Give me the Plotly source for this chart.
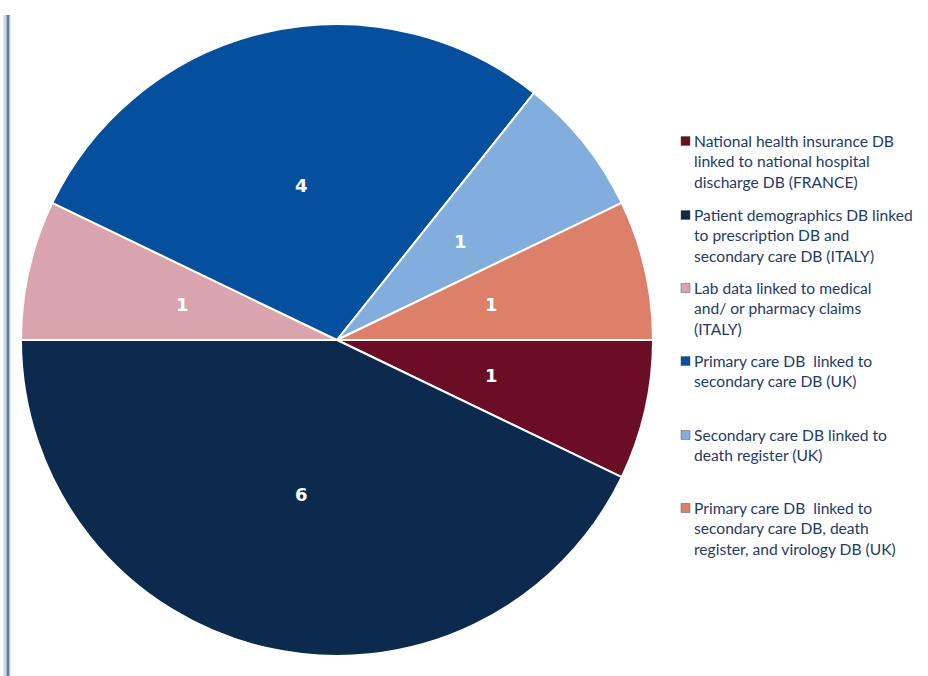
import math
import plotly.graph_objects as go

W, H = 928, 676

labels = [
    "National health insurance DB<br>linked to national hospital<br>discharge DB (FRANCE)",
    "Patient demographics DB linked<br>to prescription DB and<br>secondary care DB (ITALY)",
    "Lab data linked to medical<br>and/ or pharmacy claims<br>(ITALY)",
    "Primary care DB  linked to<br>secondary care DB (UK)",
    "Secondary care DB linked to<br>death register (UK)",
    "Primary care DB  linked to<br>secondary care DB, death<br>register, and virology DB (UK)",
]
values = [1, 6, 1, 4, 1, 1]
colors = ["#6B0D25", "#0B2A4E", "#D9A4AE", "#04509E", "#82AEDD", "#DC8069"]
legend_tops_px = [130, 204, 277, 350, 424, 497]

# pie geometry (pixels)
cx, cy, r = 337, 340, 316

fig = go.Figure(go.Pie(
    labels=labels,
    values=values,
    sort=False,
    direction="clockwise",
    rotation=90,
    marker=dict(colors=colors, line=dict(color="white", width=2)),
    textinfo="none",
    domain=dict(x=[(cx - r) / W, (cx + r) / W], y=[1 - (cy + r) / H, 1 - (cy - r) / H]),
    showlegend=False,
    hoverinfo="label+value",
))

annotations = []
shapes = []

# value labels placed at half radius on each slice's mid-angle
total = sum(values)
start = 0.0  # degrees, counter-clockwise from 3 o'clock; slices go clockwise
for v in values:
    span = 360.0 * v / total
    mid = start - span / 2
    start -= span
    px = cx + 0.5 * r * math.cos(math.radians(mid))
    py = cy - 0.5 * r * math.sin(math.radians(mid))
    annotations.append(dict(
        x=px / W, y=1 - py / H, xref="paper", yref="paper",
        xanchor="center", yanchor="middle", showarrow=False,
        text=str(v), font=dict(family="DejaVu Sans", size=18, color="white", weight="bold"),
    ))

for lab, col, top in zip(labels, colors, legend_tops_px):
    annotations.append(dict(
        x=692 / W, y=1 - top / H, xref="paper", yref="paper",
        xanchor="left", yanchor="top", align="left", showarrow=False,
        text=lab, font=dict(family="Lato", size=15.6, color="#1F3B6A"),
    ))
    yc = top + 11
    shapes.append(dict(
        type="rect", xref="paper", yref="paper",
        x0=681 / W, x1=690 / W, y0=1 - (yc - 4.5) / H, y1=1 - (yc + 4.5) / H,
        fillcolor=col, line=dict(color="#555555", width=0.5),
    ))

# left decorative vertical bar
shapes.append(dict(type="line", xref="paper", yref="paper",
                   x0=7 / W, x1=7 / W, y0=0, y1=1 - 15 / H,
                   line=dict(color="#C9D5E6", width=7)))
shapes.append(dict(type="line", xref="paper", yref="paper",
                   x0=8 / W, x1=8 / W, y0=0, y1=1 - 15 / H,
                   line=dict(color="#5C7BA6", width=2.5)))

fig.update_layout(
    width=W, height=H,
    margin=dict(l=0, r=0, t=0, b=0),
    paper_bgcolor="white",
    plot_bgcolor="white",
    annotations=annotations,
    shapes=shapes,
)

fig.write_html("out.html", config={"displayModeBar": False},
               post_script="document.body.style.margin='0px';")
